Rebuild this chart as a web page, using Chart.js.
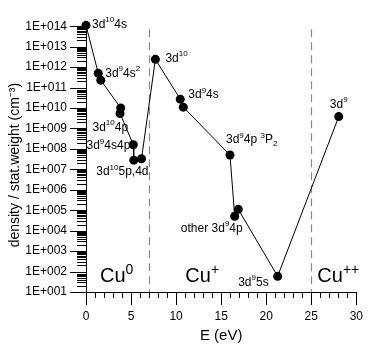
<!DOCTYPE html>
<html lang="en">
<head>
<meta charset="UTF-8">
<title>Cu level densities</title>
<style>
  html, body { margin: 0; padding: 0; background: #fff; }
  #wrap { width: 380px; height: 345px; }
</style>
</head>
<body>
<div id="wrap"><canvas id="myChart"></canvas></div>
<script src="https://cdn.jsdelivr.net/npm/chart.js@4.4.1/dist/chart.umd.min.js"></script>
<script>
// level energies (eV) and density / stat.weight (cm-3), in drawing order
const energies  = [0, 1.36, 1.64, 3.85, 3.78, 5.25, 5.3, 6.16, 7.7, 10.46, 10.8, 15.98, 16.5, 16.9, 21.27, 28.05];
const densities = [1.1e14, 5e11, 2.3e11, 1e10, 5.4e9, 1.6e8, 2.8e7, 3.3e7, 2.4e12, 2.7e10, 1.1e10, 5e7, 5.1e4, 1.1e5, 59, 3.8e9];

const yTicks = [1e1, 1e2, 1e3, 1e4, 1e5, 1e6, 1e7, 1e8, 1e9, 1e10, 1e11, 1e12, 1e13, 1e14];
const xTicks = [0, 5, 10, 15, 20, 25, 30];
const yTitle = 'density / stat.weight (cm⁻³)';

// ionisation limits (dashed lines)
const limits = [7, 25];

// ion stage labels: text, E, density
const stageText = ['Cu^{0}', 'Cu^{+}', 'Cu^{++}'];
const stageE    = [3.4, 12.9, 28];
const stageD    = [55, 55, 55];

// level labels, attached to a point index
const levelText = ['3d^{10}4s', '3d^{9}4s^{2}', '3d^{10}4p', '3d^{9}4s4p', '3d^{10}5p,4d', '3d^{10}',
                   '3d^{9}4s', '3d^{9}4p ^{3}P_{2}', 'other 3d^{9}4p', '3d^{9}5s', '3d^{9}'];
const levelIdx  = [0, 1, 4, 5, 7, 8, 10, 11, 12, 14, 15];

// label placement (pixels from the point)
const levelPos = [
  {dx: 6, dy: -1, align: 'left'},
  {dx: 7, dy: 0, align: 'left'},
  {dx: 8, dy: 14, align: 'right'},
  {dx: -3, dy: 1, align: 'right'},
  {dx: 7, dy: 13, align: 'right'},
  {dx: 10, dy: -1, align: 'left'},
  {dx: 5, dy: -12, align: 'left'},
  {dx: -4, dy: -15, align: 'left'},
  {dx: 8, dy: 12, align: 'right'},
  {dx: -9, dy: 6, align: 'right'},
  {dx: 0, dy: -12, align: 'center'}
];

const FONT = '"Liberation Sans", Arial, sans-serif';

function drawRich(ctx, str, x, y, size, align) {
  const re = /\^\{([^}]*)\}|_\{([^}]*)\}|([^^_]+)/g;
  const segs = [];
  let m;
  while ((m = re.exec(str)) !== null) {
    if (m[1] !== undefined) segs.push({t: m[1], k: 'sup'});
    else if (m[2] !== undefined) segs.push({t: m[2], k: 'sub'});
    else segs.push({t: m[3], k: 'n'});
  }
  const small = Math.round(size * 0.7);
  let total = 0;
  segs.forEach(s => {
    ctx.font = (s.k === 'n' ? size : small) + 'px ' + FONT;
    s.w = ctx.measureText(s.t).width;
    total += s.w;
  });
  let cx = x;
  if (align === 'right') cx = x - total;
  if (align === 'center') cx = x - total / 2;
  ctx.textAlign = 'left';
  ctx.textBaseline = 'middle';
  segs.forEach(s => {
    ctx.font = (s.k === 'n' ? size : small) + 'px ' + FONT;
    let yy = y;
    if (s.k === 'sup') yy = y - size * 0.36;
    if (s.k === 'sub') yy = y + size * 0.28;
    ctx.fillText(s.t, cx, yy);
    cx += s.w;
  });
}

const decoPlugin = {
  id: 'deco',
  beforeDatasetsDraw(chart) {
    const ctx = chart.ctx, xs = chart.scales.x, ys = chart.scales.y;
    const top = chart.chartArea.top, bottom = chart.chartArea.bottom;
    ctx.save();
    // dashed limits
    ctx.strokeStyle = '#8a8a8a';
    ctx.lineWidth = 1.2;
    ctx.setLineDash([8, 5]);
    limits.forEach(v => {
      const px = Math.round(xs.getPixelForValue(v)) + 0.5;
      ctx.beginPath();
      ctx.moveTo(px, top + 3);
      ctx.lineTo(px, bottom);
      ctx.stroke();
    });
    ctx.setLineDash([]);
    // axis ticks, major and minor
    ctx.strokeStyle = '#000';
    ctx.lineWidth = 1;
    const left = chart.chartArea.left;
    for (let e = 1; e <= 14; e++) {
      for (let k = 1; k <= 9; k++) {
        if (e === 14 && k > 1) break;
        const py = Math.round(ys.getPixelForValue(k * Math.pow(10, e))) + 0.5;
        const len = k === 1 ? 16 : 9;
        ctx.beginPath();
        ctx.moveTo(left - len, py);
        ctx.lineTo(left, py);
        ctx.stroke();
      }
    }
    for (let v = 0; v <= 30; v++) {
      const px = Math.round(xs.getPixelForValue(v)) + 0.5;
      const len = v % 5 === 0 ? 13 : 6;
      ctx.beginPath();
      ctx.moveTo(px, bottom);
      ctx.lineTo(px, bottom + len);
      ctx.stroke();
    }
    // y title
    ctx.translate(15, (top + bottom) / 2 + 6);
    ctx.rotate(-Math.PI / 2);
    ctx.fillStyle = '#000';
    ctx.font = '14px ' + FONT;
    ctx.textAlign = 'center';
    ctx.textBaseline = 'middle';
    ctx.fillText(yTitle, 0, 0);
    ctx.restore();
  },
  afterDatasetsDraw(chart) {
    const ctx = chart.ctx, xs = chart.scales.x, ys = chart.scales.y;
    ctx.save();
    ctx.fillStyle = '#000';
    levelText.forEach((t, i) => {
      const p = levelPos[i];
      const px = xs.getPixelForValue(energies[levelIdx[i]]);
      const py = ys.getPixelForValue(densities[levelIdx[i]]);
      drawRich(ctx, t, px + p.dx, py + p.dy, 12, p.align);
    });
    stageText.forEach((t, i) => {
      drawRich(ctx, t, xs.getPixelForValue(stageE[i]), ys.getPixelForValue(stageD[i]), 20, 'center');
    });
    ctx.restore();
  }
};

const ctx = document.getElementById('myChart').getContext('2d');
const myChart = new Chart(ctx, {
  type: 'scatter',
  data: {
    datasets: [{
      data: energies.map((e, i) => ({x: e, y: densities[i]})),
      showLine: true,
      borderColor: '#000',
      borderWidth: 1,
      backgroundColor: '#000',
      pointRadius: 4.5,
      pointBorderWidth: 0,
      pointHoverRadius: 4.5,
      clip: false
    }]
  },
  plugins: [decoPlugin],
  options: {
    responsive: true,
    maintainAspectRatio: false,
    animation: false,
    layout: { padding: { top: 10, right: 8, left: 0, bottom: 0 } },
    plugins: { legend: { display: false }, tooltip: { enabled: false } },
    scales: {
      x: {
        type: 'linear',
        min: 0, max: 30,
        afterBuildTicks: s => { s.ticks = xTicks.map(v => ({value: v})); },
        afterFit: s => { s.height = 53; },
        grid: { display: false, drawTicks: false },
        border: { color: '#000', width: 1 },
        ticks: { color: '#000', padding: 17, maxRotation: 0, font: { family: FONT, size: 12 } },
        title: { display: true, text: 'E (eV)', color: '#000', padding: { top: 0, bottom: 0 }, font: { family: FONT, size: 15 } }
      },
      y: {
        type: 'logarithmic',
        min: 10, max: 1e14,
        afterBuildTicks: s => { s.ticks = yTicks.map(v => ({value: v})); },
        afterFit: s => { s.width = 86; },
        grid: { display: false, drawTicks: false },
        border: { color: '#000', width: 1 },
        ticks: {
          color: '#000', padding: 19, font: { family: FONT, size: 12 },
          callback: v => '1E+' + String(Math.round(Math.log10(v))).padStart(3, '0')
        },
        title: { display: false }
      }
    }
  }
});
</script>
</body>
</html>
